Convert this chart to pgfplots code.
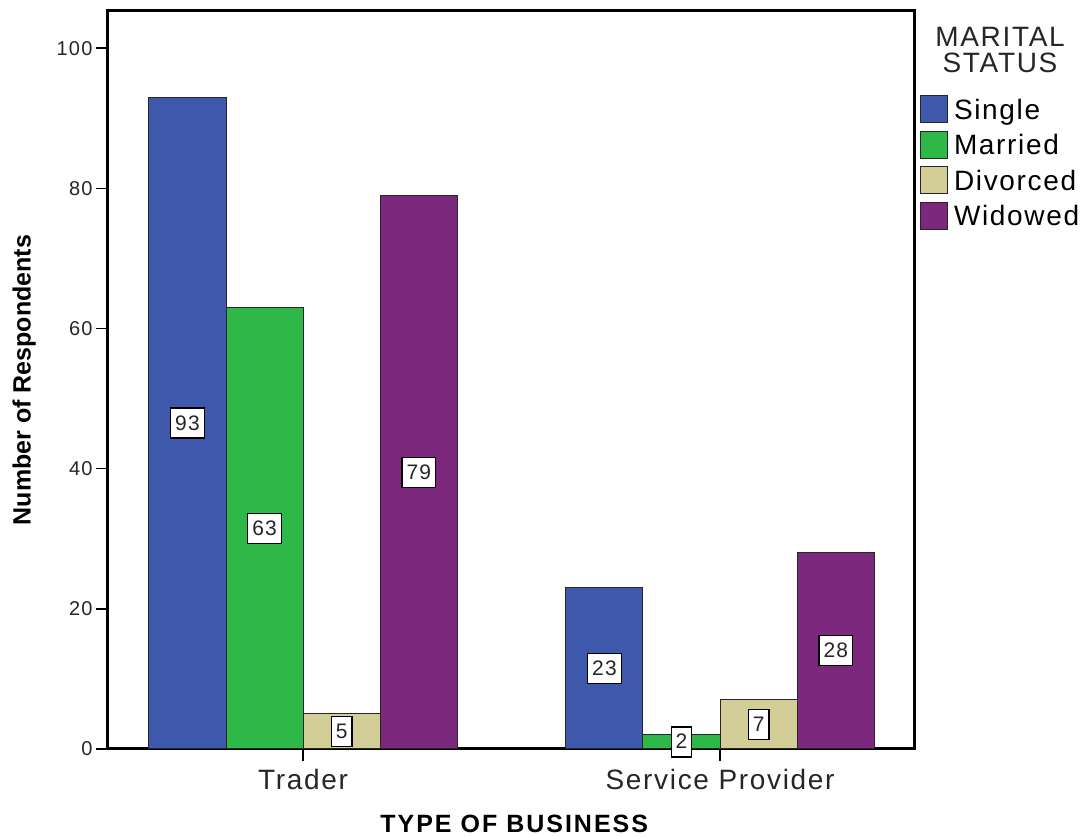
\documentclass[border=0pt]{standalone}
\usepackage{fontspec}
\setmainfont{Liberation Sans}
\newfontfamily\spss[LetterSpace=6]{Liberation Sans}
\newfontfamily\spssb[LetterSpace=8]{Liberation Sans Bold}
\usepackage{pgfplots}
\usepackage{pgfplotstable}
\pgfplotsset{compat=1.18}
\definecolor{cSingle}{HTML}{3E58AC}
\definecolor{cMarried}{HTML}{2EB848}
\definecolor{cDivorced}{HTML}{D3CE97}
\definecolor{cWidowed}{HTML}{7B287D}
\pgfplotstableread{
x Single Married Divorced Widowed
0 93 63 5 79
1 23 2 7 28
}\data
\begin{document}
\begin{tikzpicture}
\useasboundingbox (-108pt,-88pt) rectangle (981pt,749pt);
\begin{axis}[
  scale only axis, width=806pt, height=738pt,
  anchor=south west, at={(0pt,0pt)},
  xmin=-0.468, xmax=1.465, ymin=0, ymax=105.3,
  xtick={0,1}, xticklabels={Trader, Service Provider},
  ytick={0,20,40,60,80,100},
  xtick pos=bottom, ytick pos=left,
  tick align=outside, major tick length=12pt,
  tick style={black, line width=1.5pt},
  axis line style={line width=3pt},
  /pgf/number format/assume math mode=true,
  yticklabel style={font=\spss\fontsize{20}{24}\selectfont, text=black!85},
  xticklabel style={font=\spss\fontsize{28}{32}\selectfont, text=black!85, yshift=-5pt},
  ylabel={Number of Respondents},
  ylabel style={font=\bfseries\fontsize{25}{30}\selectfont, at={(axis description cs:-0.104,0.5)}, anchor=center},
  xlabel={TYPE OF BUSINESS},
  xlabel style={font=\spssb\fontsize{25}{30}\selectfont, at={(axis description cs:0.504,-0.1015)}, anchor=center, text depth=0pt, inner sep=0pt},
  clip=false,
  legend style={at={(rel axis cs:1,0.886)}, anchor=north west, xshift=6pt,
    draw=none, fill=none, inner sep=0pt, outer sep=0pt, column sep=6pt, row sep=5.5pt,
    font=\spss\fontsize{28}{32}\selectfont,
    nodes={inner sep=0pt, text height=20pt, text depth=6pt, anchor=base west}},
  legend cell align=left,
  legend image code/.code={\draw[#1, draw=black!85, line width=1pt] (0pt,-3.5pt) rectangle (27pt,23.5pt);},
  every node near coord/.style={anchor=center, fill=white, draw=black, line width=1.2pt,
    inner xsep=4.5pt, inner ysep=0pt, minimum height=30pt, text height=14pt, text depth=0pt,
    font=\spss\fontsize{21}{24}\selectfont, text=black!85},
]
\addplot[ybar, bar width=0.185, bar shift=0pt, fill=cSingle, draw=black!85, line width=1pt]
  table[x expr=\thisrow{x}-0.2775, y=Single] {\data};
\addlegendentry{Single}
\addplot[ybar, bar width=0.185, bar shift=0pt, fill=cMarried, draw=black!85, line width=1pt]
  table[x expr=\thisrow{x}-0.0925, y=Married] {\data};
\addlegendentry{Married}
\addplot[ybar, bar width=0.185, bar shift=0pt, fill=cDivorced, draw=black!85, line width=1pt]
  table[x expr=\thisrow{x}+0.0925, y=Divorced] {\data};
\addlegendentry{Divorced}
\addplot[ybar, bar width=0.185, bar shift=0pt, fill=cWidowed, draw=black!85, line width=1pt]
  table[x expr=\thisrow{x}+0.2775, y=Widowed] {\data};
\addlegendentry{Widowed}
% value labels at mid-height of each bar
\addplot[forget plot, draw=none, mark=none, nodes near coords, point meta=explicit]
  table[x expr=\thisrow{x}-0.2775, y expr=\thisrow{Single}/2, meta=Single] {\data};
\addplot[forget plot, draw=none, mark=none, nodes near coords, point meta=explicit]
  table[x expr=\thisrow{x}-0.0925, y expr=\thisrow{Married}/2, meta=Married] {\data};
\addplot[forget plot, draw=none, mark=none, nodes near coords, point meta=explicit]
  table[x expr=\thisrow{x}+0.0925, y expr=\thisrow{Divorced}/2, meta=Divorced] {\data};
\addplot[forget plot, draw=none, mark=none, nodes near coords, point meta=explicit]
  table[x expr=\thisrow{x}+0.2775, y expr=\thisrow{Widowed}/2, meta=Widowed] {\data};
\node[font=\spss\fontsize{28}{26}\selectfont, align=center, text=black!85, anchor=center]
  at (rel axis cs:1.1067,0.947) {MARITAL\\STATUS};
\end{axis}
\end{tikzpicture}
\end{document}
